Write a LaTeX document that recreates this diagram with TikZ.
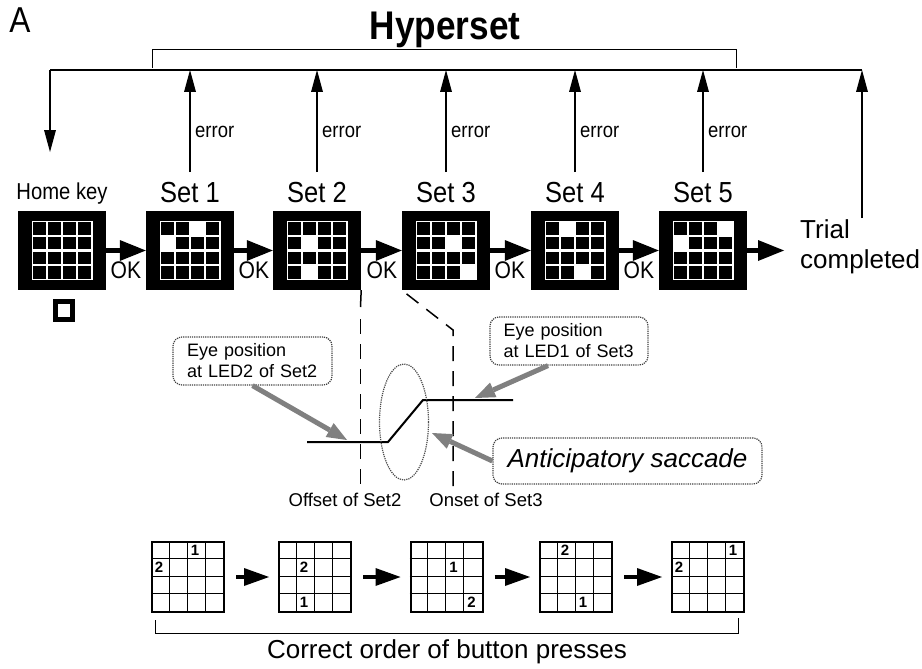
\documentclass[tikz,border=0pt]{standalone}
\usepackage{fontspec}
\setmainfont{Liberation Sans}
\newfontfamily\narrowf{Liberation Sans}[FakeStretch=0.88]
\usetikzlibrary{arrows.meta,shapes.geometric,calc}
\newcommand{\fsz}[2]{\fontsize{#1}{#2}\selectfont}
\definecolor{hatch}{gray}{0.5}
\newcommand{\ledgrid}[2]{%
  \fill[white] ({#1-30.5},{#2-29.5}) rectangle ({#1+30.5},{#2+29.5});
  \foreach \rr in {1,...,4}{\foreach \cc in {1,...,4}{
    \fill[black] ({#1-30.5+(\cc-1)*15.25+1.1},{#2-29.5+(\rr-1)*14.75+1.1}) rectangle ++(13.05,12.55);}}}
\newcommand{\litcells}[3]{%
  \foreach \rr/\cc in {#3}{\fill[white] ({#1-30.5+(\cc-1)*15.25},{#2-29.5+(\rr-1)*14.75}) rectangle ++(15.25,14.75);}}
\newcommand{\bgrid}[1]{%
  \foreach \k in {1,2,3}{
    \draw[line width=0.9pt] ($(#1.north west)+(\k*18,0)$) -- ($(#1.south west)+(\k*18,0)$);
    \draw[line width=0.9pt] ($(#1.north west)+(0,\k*17.5)$) -- ($(#1.north east)+(0,\k*17.5)$);}}
\newcommand{\bnum}[4]{%
  \node[numlbl] (#1-#4) at ($(#1.north west)+({(#3-1)*18+8},{(#2-1)*17.5+9})$) {#4};}
\begin{document}
\begin{tikzpicture}[x=1pt,y=-1pt,every node/.style={inner sep=0pt},
  ledbox/.style={fill=black,minimum width=88pt,minimum height=79pt},
  bgridbox/.style={draw,line width=2pt,minimum width=72pt,minimum height=70pt},
  numlbl/.style={font=\bfseries\fsz{15}{15}},
  barrow/.style={line width=4.5pt,-{Triangle[length=26pt,width=21pt,line width=0pt]}},
  earrow/.style={line width=1.3pt,-{Triangle[length=22pt,width=12pt,line width=0pt]}},
  garrow/.style={draw=hatch,line width=5pt,-{Triangle[length=20pt,width=16pt,line width=0pt,fill=hatch]}},
  callout/.style={draw=black!75,densely dotted,line width=1.2pt,rounded corners=9pt},
  setlbl/.style={font=\narrowf\fsz{29}{34}},
  oklbl/.style={font=\narrowf\fsz{24}{28}},
  errlbl/.style={font=\narrowf\fsz{21}{25},anchor=west},
  smalllbl/.style={font=\fsz{18.5}{21}},
  dashline/.style={line width=1.5pt,dash pattern=on 15pt off 10pt}]
\useasboundingbox (0,0) rectangle (922,669);

% title
\node[font=\narrowf\fsz{36}{40}] (A) at (20,20) {A};
\node[font=\narrowf\bfseries\fsz{40}{46}] (hyper) at (445,30) {Hyperset};
\draw[line width=1pt] (152,68) -- (152,50) -- (736,50) -- (736,68);

% top feedback line
\coordinate (topL) at (50,70);
\coordinate (topR) at (862,70);
\draw[line width=1.8pt] (topL) -- (topR);
\coordinate (homeIn) at (50,152);
\draw[earrow] (topL) -- (homeIn);
\coordinate (trialUp) at (862,218);
\draw[earrow] (trialUp) -- (topR);

% boxes
\node[ledbox] (b0) at (62,250.5) {};
\node[ledbox] (b1) at (190,250.5) {};
\node[ledbox] (b2) at (317,250.5) {};
\node[ledbox] (b3) at (446,250.5) {};
\node[ledbox] (b4) at (575,250.5) {};
\node[ledbox] (b5) at (703,250.5) {};
\ledgrid{62}{250.5}
\ledgrid{190}{250.5}\litcells{190}{250.5}{1/3,2/1}
\ledgrid{317}{250.5}\litcells{317}{250.5}{2/2,4/2}
\ledgrid{446}{250.5}\litcells{446}{250.5}{2/3,4/4}
\ledgrid{575}{250.5}\litcells{575}{250.5}{1/2,4/3}
\ledgrid{703}{250.5}\litcells{703}{250.5}{1/4,2/1}

% labels above boxes
\node[font=\narrowf\fsz{23}{27}] (l0) at (62,194) {Home key};
\node[setlbl] (l1) at (190,193) {Set 1};
\node[setlbl] (l2) at (317,193) {Set 2};
\node[setlbl] (l3) at (446,193) {Set 3};
\node[setlbl] (l4) at (575,193) {Set 4};
\node[setlbl] (l5) at (703,193) {Set 5};

% error arrows
\foreach \i/\x in {1/190,2/317,3/446,4/575,5/703}{
  \coordinate (eb\i) at (\x,172);
  \coordinate (et\i) at (\x,70);
  \draw[earrow] (eb\i) -- (et\i);
  \node[errlbl] (err\i) at (\x+5,132) {error};
}

% OK arrows
\draw[barrow] (b0.east) -- (b1.west);
\draw[barrow] (b1.east) -- (b2.west);
\draw[barrow] (b2.east) -- (b3.west);
\draw[barrow] (b3.east) -- (b4.west);
\draw[barrow] (b4.east) -- (b5.west);
\coordinate (endArrow) at (784,250.5);
\draw[barrow] (b5.east) -- (endArrow);
\node[oklbl] (ok1) at (126,270) {OK};
\node[oklbl] (ok2) at (254,270) {OK};
\node[oklbl] (ok3) at (382,270) {OK};
\node[oklbl] (ok4) at (510,270) {OK};
\node[oklbl] (ok5) at (639,270) {OK};
\node[font=\fsz{26}{30},align=left,anchor=west] (trial) at (800,247) {Trial\\completed};

% home key small square
\node[draw,line width=5pt,minimum width=17pt,minimum height=18pt] (hk) at (64,310) {};

% dashed guide lines
\coordinate (d1a) at (360.5,307);
\coordinate (d1b) at (360.5,490);
\draw[line width=1.5pt] (b2.south east) -- (d1a);
\draw[dashline] ($(d1a)+(0,12)$) -- (d1b);
\coordinate (d2a) at (453,330);
\coordinate (d2b) at (453,490);
\draw[dashline,dash phase=-6pt] (b3.south west) -- (d2a) -- (d2b);

% eye trace
\coordinate (t0) at (307,442);
\coordinate (t1) at (388,442);
\coordinate (t2) at (423,400);
\coordinate (t3) at (513,400);
\draw[line width=2pt] (t0) -- (t1) -- (t2) -- (t3);
\node[draw=black!70,densely dotted,line width=1.2pt,ellipse,minimum width=49pt,minimum height=116pt] (ell) at (404,422) {};

% callouts
\node[callout,minimum width=159pt,minimum height=48pt,text width=131pt,align=left,font=\fsz{18}{21}] (c1) at (252.5,361) {Eye position\\at LED2 of Set2};
\node[callout,minimum width=158pt,minimum height=48pt,text width=131pt,align=left,font=\fsz{18}{21}] (c2) at (569,341) {Eye position\\at LED1 of Set3};
\node[callout,minimum width=269pt,minimum height=46pt,font=\itshape\fsz{26}{30}] (ant) at (627.5,461) {Anticipatory saccade};
\coordinate (tip1) at (347,440);
\coordinate (tip2) at (475,398);
\coordinate (tip3) at (432,433);
\draw[garrow] (c1.south) -- (tip1);
\draw[garrow] ([xshift=-21pt]c2.south) -- (tip2);
\draw[garrow] (ant.west) -- (tip3);

\node[smalllbl] (off) at (345,500) {Offset of Set2};
\node[smalllbl] (on) at (486,500) {Onset of Set3};

% bottom grids
\node[bgridbox] (g1) at (188,577) {};
\node[bgridbox] (g2) at (315,577) {};
\node[bgridbox] (g3) at (446.5,577) {};
\node[bgridbox] (g4) at (576,577) {};
\node[bgridbox] (g5) at (708,577) {};
\bgrid{g1}\bgrid{g2}\bgrid{g3}\bgrid{g4}\bgrid{g5}
\bnum{g1}{1}{3}{1}\bnum{g1}{2}{1}{2}
\bnum{g2}{2}{2}{2}\bnum{g2}{4}{2}{1}
\bnum{g3}{2}{3}{1}\bnum{g3}{4}{4}{2}
\bnum{g4}{1}{2}{2}\bnum{g4}{4}{3}{1}
\bnum{g5}{1}{4}{1}\bnum{g5}{2}{1}{2}
\tikzset{sarrow/.style={line width=4.5pt,shorten <=11pt,shorten >=9pt,-{Triangle[length=25pt,width=18pt,line width=0pt]}}}
\draw[sarrow] (g1.east) -- (g2.west);
\draw[sarrow] (g2.east) -- (g3.west);
\draw[sarrow] (g3.east) -- (g4.west);
\draw[sarrow] (g4.east) -- (g5.west);

% bottom bracket
\draw[line width=1pt] (155,620) -- (155,633) -- (738,633) -- (738,618);
\node[font=\fsz{26}{30}] (order) at (447,652) {Correct order of button presses};
\end{tikzpicture}
\end{document}
